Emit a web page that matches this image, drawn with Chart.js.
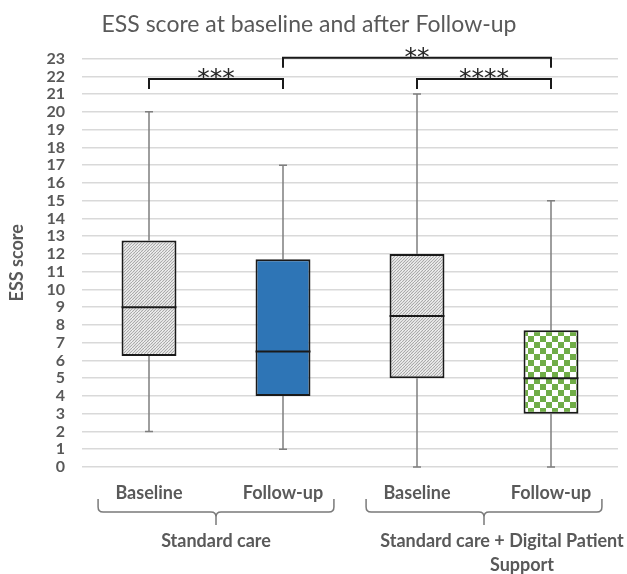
<!DOCTYPE html>
<html>
<head>
<meta charset="utf-8">
<script src="https://cdn.jsdelivr.net/npm/chart.js@4.4.1/dist/chart.umd.min.js"></script>
<style>
  html, body { margin: 0; padding: 0; background: #fff; }
  #wrap { width: 627px; height: 574px; }
</style>
</head>
<body>
<div id="wrap"><canvas id="essChart" width="627" height="574"></canvas></div>
<script>
// box plot values
const categories = ['Baseline', 'Follow-up', 'Baseline', 'Follow-up'];
const groups = ['Standard care', 'Standard care + Digital Patient Support'];
const whiskerMin = [2, 1, 0, 0];
const quartile1 = [6.25, 4, 5, 3];
const medians = [9, 6.5, 8.5, 5];
const quartile3 = [12.75, 11.7, 12, 7.7];
const whiskerMax = [20, 17, 21, 15];

// significance brackets: [from box, to box, label]
const sigPairs = [[0, 1, '***'], [2, 3, '****'], [1, 3, '**']];

const grey = '#595959';
const fontName = 'Lato, "Open Sans", sans-serif';

function hatchPattern() {
  const c = document.createElement('canvas');
  c.width = 6; c.height = 6;
  const g = c.getContext('2d');
  g.fillStyle = '#ffffff';
  g.fillRect(0, 0, 6, 6);
  g.strokeStyle = '#a8a8a8';
  g.lineWidth = 1.2;
  for (let k = -6; k <= 6; k += 3) {
    g.beginPath();
    g.moveTo(k, 6);
    g.lineTo(k + 6, 0);
    g.stroke();
  }
  return g.createPattern(c, 'repeat');
}

function checkerPattern() {
  const c = document.createElement('canvas');
  c.width = 12; c.height = 12;
  const g = c.getContext('2d');
  g.fillStyle = '#ffffff';
  g.fillRect(0, 0, 12, 12);
  g.fillStyle = '#70ad47';
  g.fillRect(0, 0, 6, 6);
  g.fillRect(6, 6, 6, 6);
  return g.createPattern(c, 'repeat');
}

const hatch = hatchPattern();
const boxFills = [hatch, '#2e75b6', hatch, checkerPattern()];

// whiskers behind the boxes, medians on top
const boxParts = {
  id: 'boxParts',
  beforeDatasetsDraw(chart) {
    const { ctx, scales: { x, y } } = chart;
    ctx.save();
    ctx.strokeStyle = '#7f7f7f';
    ctx.lineWidth = 1.5;
    categories.forEach((c, i) => {
      const px = x.getPixelForValue(i);
      const lo = y.getPixelForValue(whiskerMin[i]);
      const hi = y.getPixelForValue(whiskerMax[i]);
      ctx.beginPath();
      ctx.moveTo(px, lo);
      ctx.lineTo(px, y.getPixelForValue(quartile1[i]));
      ctx.moveTo(px, y.getPixelForValue(quartile3[i]));
      ctx.lineTo(px, hi);
      ctx.moveTo(px - 4, lo); ctx.lineTo(px + 4, lo);
      ctx.moveTo(px - 4, hi); ctx.lineTo(px + 4, hi);
      ctx.stroke();
    });
    ctx.restore();
  },
  afterDatasetsDraw(chart) {
    const { ctx, scales: { y } } = chart;
    const meta = chart.getDatasetMeta(0);
    ctx.save();
    ctx.strokeStyle = '#1a1a1a';
    ctx.lineWidth = 2;
    meta.data.forEach((bar, i) => {
      const py = y.getPixelForValue(medians[i]);
      ctx.beginPath();
      ctx.moveTo(bar.x - bar.width / 2, py);
      ctx.lineTo(bar.x + bar.width / 2, py);
      ctx.stroke();
    });
    ctx.restore();
  }
};

// significance brackets above and group braces below
const annotations = {
  id: 'annotations',
  afterDraw(chart) {
    const { ctx, scales: { x, y } } = chart;
    ctx.save();

    // brackets
    const lowLine = y.getPixelForValue(21.85);
    const highLine = y.getPixelForValue(23.05);
    ctx.strokeStyle = '#1a1a1a';
    ctx.lineWidth = 2;
    ctx.fillStyle = '#262626';
    ctx.font = '25px "DejaVu Sans"';
    sigPairs.forEach(([a, b, label]) => {
      const lineY = (b - a > 1) ? highLine : lowLine;
      const xa = x.getPixelForValue(a);
      const xb = x.getPixelForValue(b);
      ctx.beginPath();
      ctx.moveTo(xa, lineY + 10);
      ctx.lineTo(xa, lineY);
      ctx.lineTo(xb, lineY);
      ctx.lineTo(xb, lineY + 10);
      ctx.stroke();
      const m = ctx.measureText('*');
      const base = lineY - 5 + (m.actualBoundingBoxAscent - m.actualBoundingBoxDescent) / 2;
      const step = 12.5;
      const mid = (xa + xb) / 2;
      ctx.textAlign = 'center';
      for (let k = 0; k < label.length; k++) {
        const cx = mid + (k - (label.length - 1) / 2) * step;
        ctx.fillText('*', cx, base);
      }
    });

    // braces under the groups
    const half = (x.getPixelForValue(1) - x.getPixelForValue(0)) * 0.38;
    const topY = chart.chartArea.bottom + 32;
    const midY = topY + 13;
    const botY = midY + 13;
    ctx.strokeStyle = '#7a7a7a';
    ctx.lineWidth = 1.5;
    ctx.fillStyle = grey;
    ctx.font = 'bold 18px ' + fontName;
    ctx.textAlign = 'center';
    ctx.textBaseline = 'middle';
    [[0, 1], [2, 3]].forEach(([a, b], gi) => {
      const x0 = x.getPixelForValue(a) - half;
      const x1 = x.getPixelForValue(b) + half;
      const xc = (x0 + x1) / 2;
      const r = 5;
      ctx.beginPath();
      ctx.moveTo(x0, topY);
      ctx.lineTo(x0, midY - r);
      ctx.quadraticCurveTo(x0, midY, x0 + r, midY);
      ctx.lineTo(xc - r, midY);
      ctx.quadraticCurveTo(xc, midY, xc, midY + r);
      ctx.lineTo(xc, botY);
      ctx.moveTo(xc, midY + r);
      ctx.quadraticCurveTo(xc, midY, xc + r, midY);
      ctx.lineTo(x1 - r, midY);
      ctx.quadraticCurveTo(x1, midY, x1, midY - r);
      ctx.lineTo(x1, topY);
      ctx.stroke();

      const textY = botY + 16;
      if (gi === 0) {
        ctx.fillText(groups[0], xc, textY);
      } else {
        ctx.fillText('Standard care + Digital Patient', xc + 18, textY);
        ctx.fillText('Support', xc + 38, textY + 24);
      }
    });
    ctx.restore();
  }
};

new Chart(document.getElementById('essChart'), {
  type: 'bar',
  data: {
    labels: categories,
    datasets: [{
      label: 'ESS score',
      data: quartile1.map((q, i) => [q, quartile3[i]]),
      backgroundColor: boxFills,
      borderColor: '#1a1a1a',
      borderWidth: 2,
      borderSkipped: false,
      barPercentage: 0.41,
      categoryPercentage: 1
    }]
  },
  options: {
    responsive: false,
    animation: false,
    layout: { padding: { right: 9 } },
    plugins: {
      legend: { display: false },
      tooltip: { enabled: false },
      title: {
        display: true,
        text: 'ESS score at baseline and after Follow-up',
        color: grey,
        font: { family: fontName, size: 23, weight: 'normal' },
        padding: { top: 11, bottom: 20 }
      }
    },
    scales: {
      x: {
        grid: { display: false, drawTicks: false },
        border: { display: false },
        ticks: {
          color: grey,
          font: { family: fontName, size: 18, weight: 'bold' },
          padding: 15,
          maxRotation: 0
        },
        afterFit(scale) { scale.height = 107; }
      },
      y: {
        min: 0,
        max: 23,
        grid: { color: '#d9d9d9', lineWidth: 1.5, drawTicks: false },
        border: { display: false },
        ticks: {
          stepSize: 1,
          autoSkip: false,
          color: grey,
          font: { family: fontName, size: 16, weight: 'bold' },
          padding: 17
        },
        title: {
          display: true,
          text: 'ESS score',
          color: grey,
          font: { family: fontName, size: 18, weight: 'bold' },
          padding: { top: 6, bottom: 0 }
        },
        afterFit(scale) { scale.width = 82; }
      }
    }
  },
  plugins: [boxParts, annotations]
});
</script>
</body>
</html>
